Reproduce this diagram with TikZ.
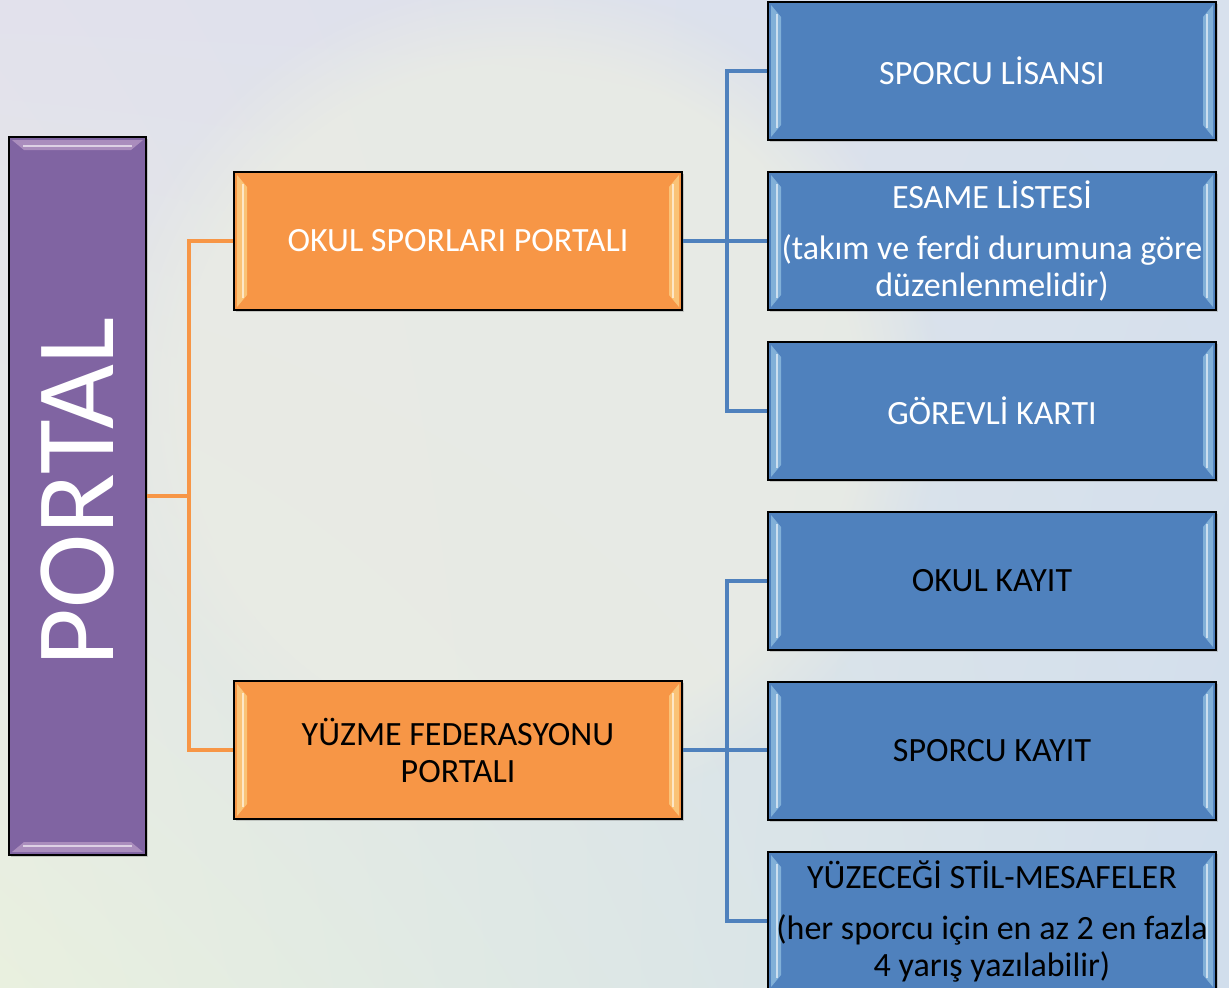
\documentclass[tikz,border=0pt]{standalone}
\usepackage{fontspec}
\setmainfont{Carlito}
\usetikzlibrary{positioning,shadows,fadings,shadings}

\definecolor{portalpurple}{HTML}{8064A2}
\definecolor{portalorange}{HTML}{F79646}
\definecolor{portalblue}{HTML}{4F81BD}
\definecolor{bgtl}{RGB}{226,225,236}
\definecolor{bgtr}{RGB}{216,225,237}
\definecolor{bgbl}{RGB}{233,240,223}
\definecolor{bgbr}{RGB}{209,222,236}
\definecolor{bgmid}{RGB}{234,236,228}

\tikzset{
  bevel lr/.style={path picture={
    \fill[#1,opacity=.45] ([shift={(3pt,-3pt)}]path picture bounding box.north west)
      -- ([shift={(13pt,-15pt)}]path picture bounding box.north west)
      -- ([shift={(13pt,15pt)}]path picture bounding box.south west)
      -- ([shift={(3pt,3pt)}]path picture bounding box.south west) -- cycle;
    \fill[#1,opacity=.45] ([shift={(-3pt,-3pt)}]path picture bounding box.north east)
      -- ([shift={(-13pt,-15pt)}]path picture bounding box.north east)
      -- ([shift={(-13pt,15pt)}]path picture bounding box.south east)
      -- ([shift={(-3pt,3pt)}]path picture bounding box.south east) -- cycle;
    \draw[white,opacity=.6,line width=1.5pt]
      ([shift={(9pt,-12pt)}]path picture bounding box.north west)
      -- ([shift={(9pt,12pt)}]path picture bounding box.south west);
    \draw[white,opacity=.6,line width=1.5pt]
      ([shift={(-9pt,-12pt)}]path picture bounding box.north east)
      -- ([shift={(-9pt,12pt)}]path picture bounding box.south east);
  }},
  bevel tb/.style={path picture={
    \fill[#1,opacity=.45] ([shift={(3pt,-3pt)}]path picture bounding box.north west)
      -- ([shift={(15pt,-13pt)}]path picture bounding box.north west)
      -- ([shift={(-15pt,-13pt)}]path picture bounding box.north east)
      -- ([shift={(-3pt,-3pt)}]path picture bounding box.north east) -- cycle;
    \fill[#1,opacity=.45] ([shift={(3pt,3pt)}]path picture bounding box.south west)
      -- ([shift={(15pt,13pt)}]path picture bounding box.south west)
      -- ([shift={(-15pt,13pt)}]path picture bounding box.south east)
      -- ([shift={(-3pt,3pt)}]path picture bounding box.south east) -- cycle;
    \draw[white,opacity=.6,line width=1.5pt]
      ([shift={(14pt,-9pt)}]path picture bounding box.north west)
      -- ([shift={(-14pt,-9pt)}]path picture bounding box.north east);
    \draw[white,opacity=.6,line width=1.5pt]
      ([shift={(14pt,9pt)}]path picture bounding box.south west)
      -- ([shift={(-14pt,9pt)}]path picture bounding box.south east);
  }},
  box/.style={draw=black,line width=1.6pt,minimum width=448pt,minimum height=138pt,
    inner sep=0pt,align=center,font=\fontsize{34}{37}\selectfont,
    drop shadow={opacity=.35,shadow xshift=1.5pt,shadow yshift=-2pt}},
  orangebox/.style={box,fill=portalorange,bevel lr={yellow!30!white}},
  bluebox/.style={box,fill=portalblue,bevel lr={cyan!25!white}},
  oline/.style={draw=portalorange,line width=4.5pt},
  bline/.style={draw=portalblue,line width=4.5pt},
}

\begin{document}
\begin{tikzpicture}[x=1pt,y=-1pt,node distance=30.4pt]
\useasboundingbox (0,0) rectangle (1229,988);
\clip (0,0) rectangle (1229,988);
% background
\shade[upper left=bgtl,upper right=bgtr,lower left=bgbl,lower right=bgbr]
  (0,0) rectangle (1229,988);
\fill[bgmid,opacity=.8,path fading=circle with fuzzy edge 20 percent] (520,400) circle (420);

% main box
\node[draw=black,line width=1.6pt,fill=portalpurple,minimum width=137pt,minimum height=718pt,
  bevel tb={violet!25!white},drop shadow={opacity=.35,shadow xshift=1.5pt,shadow yshift=-2pt}]
  (portal) at (77.5,496) {};
\node[rotate=90,text=white,font=\fontsize{112}{116}\selectfont,inner sep=0pt]
  (portaltext) at ([yshift=4pt]portal.center) {PORTAL};

% portals
\node[orangebox,text=white] (okul) at (458,241) {OKUL SPORLARI PORTALI};
\node[orangebox,text=black] (yuzme) at (458,750) {YÜZME FEDERASYONU\\PORTALI};

% okul sporlari
\node[bluebox,text=white] (lisans) at (992,71) {SPORCU LİSANSI};
\node[bluebox,text=white,below=of lisans] (esame)
  {ESAME LİSTESİ\\[14pt](takım ve ferdi durumuna göre\\düzenlenmelidir)};
\node[bluebox,text=white,below=of esame] (gorevli) {GÖREVLİ KARTI};

% yuzme federasyonu
\node[bluebox,text=black,below=of gorevli] (okulkayit) {OKUL KAYIT};
\node[bluebox,text=black,below=of okulkayit] (sporcukayit) {SPORCU KAYIT};
\node[bluebox,text=black,below=of sporcukayit] (stil)
  {YÜZECEĞİ STİL-MESAFELER\\[14pt](her sporcu için en az 2 en fazla\\4 yarış yazılabilir)};

% connectors
\coordinate (jp) at ([xshift=42pt]portal.east);
\coordinate (jo) at ([xshift=44pt]okul.east);
\coordinate (jy) at ([xshift=44pt]yuzme.east);
\draw[oline] (portal.east) -- (jp);
\draw[oline] (okul.west) -| (jp) |- (yuzme.west);
\draw[bline] (okul.east) -- (okul.east -| esame.west);
\draw[bline] (lisans.west) -| (jo) |- (gorevli.west);
\draw[bline] (yuzme.east) -- (yuzme.east -| sporcukayit.west);
\draw[bline] (okulkayit.west) -| (jy) |- (stil.west);
\end{tikzpicture}
\end{document}
